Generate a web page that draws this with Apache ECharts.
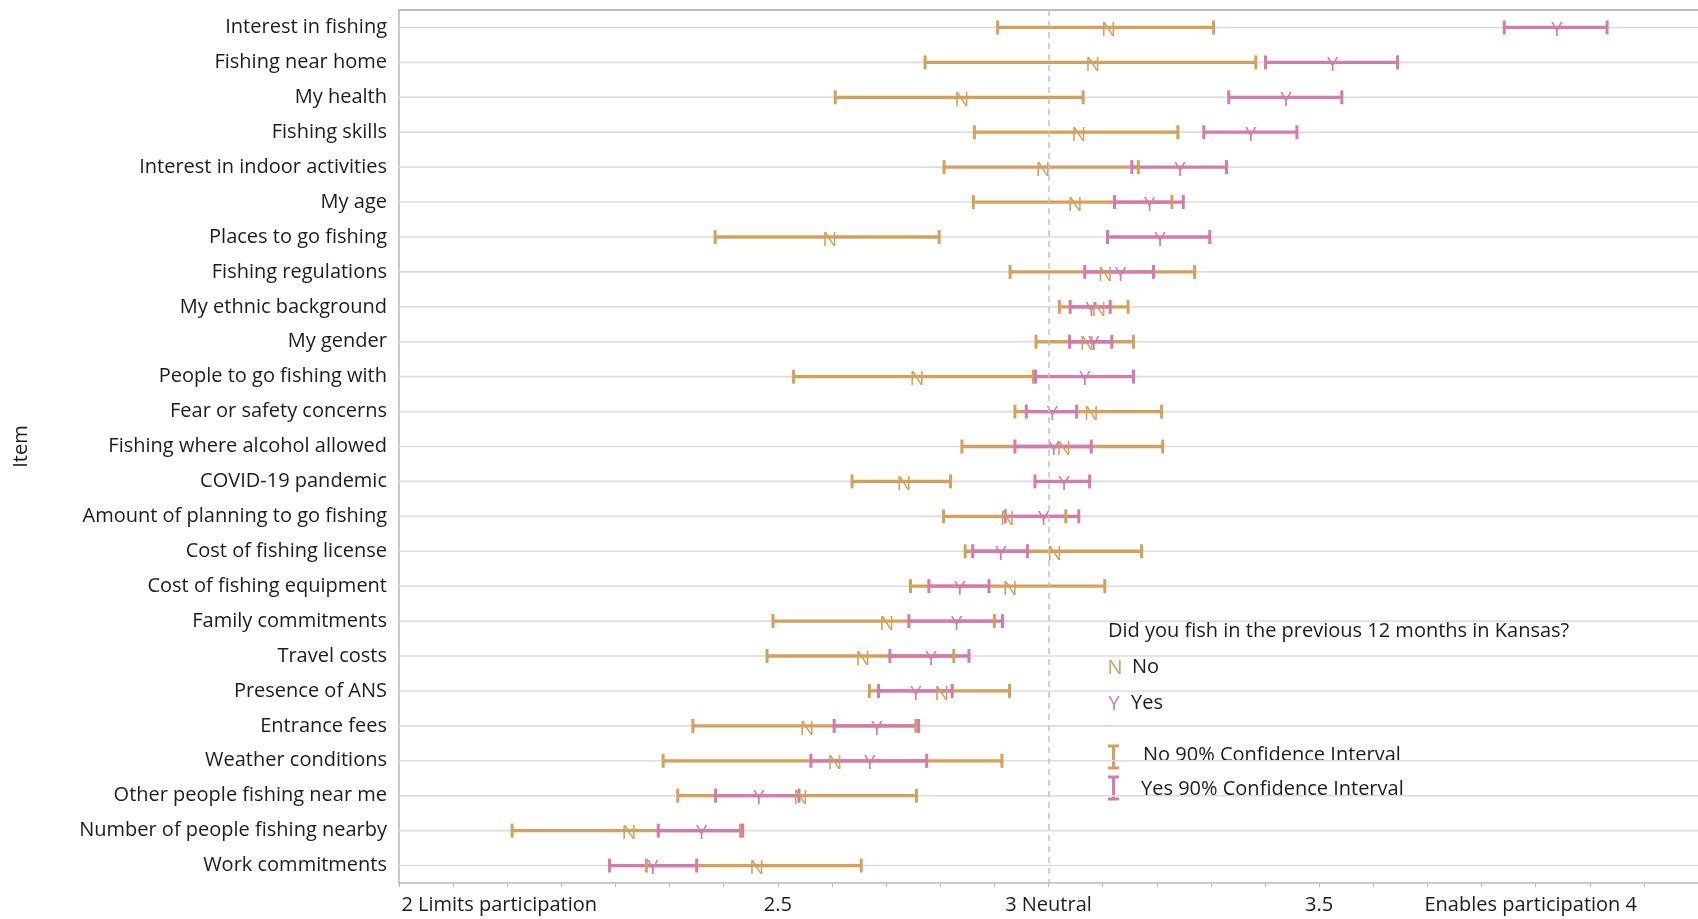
<!DOCTYPE html>
<html>
<head>
<meta charset="utf-8">
<script src="https://cdn.jsdelivr.net/npm/echarts@6/dist/echarts.min.js"></script>
<style>
  html, body { margin: 0; padding: 0; background: #ffffff; }
  #chart { width: 1698px; height: 919px; }
</style>
</head>
<body>
<div id="chart"></div>
<script>
// Items rated on a 1–5 scale (limits ... enables participation), listed top to bottom
const items = [
  'Interest in fishing',
  'Fishing near home',
  'My health',
  'Fishing skills',
  'Interest in indoor activities',
  'My age',
  'Places to go fishing',
  'Fishing regulations',
  'My ethnic background',
  'My gender',
  'People to go fishing with',
  'Fear or safety concerns',
  'Fishing where alcohol allowed',
  'COVID-19 pandemic',
  'Amount of planning to go fishing',
  'Cost of fishing license',
  'Cost of fishing equipment',
  'Family commitments',
  'Travel costs',
  'Presence of ANS',
  'Entrance fees',
  'Weather conditions',
  'Other people fishing near me',
  'Number of people fishing nearby',
  'Work commitments'
];

// Respondents who did NOT fish in Kansas in the previous 12 months: mean and 90% CI
const noMean = [3.111, 3.082, 2.840, 3.056, 2.990, 3.049, 2.596, 3.105, 3.093, 3.071, 2.757, 3.079, 3.028,
                2.733, 2.924, 3.011, 2.929, 2.701, 2.657, 2.803, 2.554, 2.605, 2.542, 2.225, 2.461];
const noLow  = [2.906, 2.772, 2.606, 2.863, 2.807, 2.861, 2.384, 2.929, 3.020, 2.977, 2.529, 2.938, 2.840,
                2.637, 2.806, 2.846, 2.745, 2.491, 2.480, 2.669, 2.343, 2.288, 2.315, 2.009, 2.257];
const noHigh = [3.305, 3.383, 3.064, 3.239, 3.166, 3.228, 2.798, 3.270, 3.147, 3.157, 2.972, 3.209, 3.211,
                2.819, 3.032, 3.172, 3.104, 2.900, 2.825, 2.928, 2.755, 2.914, 2.756, 2.431, 2.654];

// Respondents who DID fish in Kansas in the previous 12 months: mean and 90% CI
const yesMean = [3.939, 3.525, 3.439, 3.374, 3.243, 3.187, 3.206, 3.133, 3.079, 3.084, 3.067, 3.007, 3.010,
                 3.029, 2.991, 2.912, 2.836, 2.830, 2.783, 2.755, 2.683, 2.670, 2.465, 2.359, 2.269];
const yesLow  = [3.842, 3.401, 3.333, 3.287, 3.154, 3.122, 3.109, 3.067, 3.040, 3.039, 2.976, 2.959, 2.938,
                 2.975, 2.920, 2.860, 2.779, 2.742, 2.707, 2.686, 2.604, 2.561, 2.385, 2.279, 2.189];
const yesHigh = [4.032, 3.645, 3.542, 3.459, 3.329, 3.249, 3.298, 3.194, 3.114, 3.117, 3.157, 3.052, 3.079,
                 3.076, 3.056, 2.961, 2.890, 2.915, 2.853, 2.822, 2.760, 2.775, 2.539, 2.435, 2.350];

// X axis ticks and labels
const xTickValues = [1.8, 1.9, 2.0, 2.1, 2.2, 2.3, 2.4, 2.5, 2.6, 2.7, 2.8, 2.9, 3.0,
                     3.1, 3.2, 3.3, 3.4, 3.5, 3.6, 3.7, 3.8, 3.9, 4.0, 4.1, 4.2];
const xLabelValues = [2, 2.5, 3, 3.5, 4];
const xLabelTexts = ['2 Limits participation', '2.5', '3 Neutral', '3.5', 'Enables participation 4'];

const NO_COLOR = '#D4A05B';
const YES_COLOR = '#D37AAE';
const FONT = '"Open Sans", "Noto Sans", sans-serif';
const TEXT_COLOR = '#1c1c1c';
const FS = 20;

const rows = items.map((name, i) => [i, noLow[i], noMean[i], noHigh[i], yesLow[i], yesMean[i], yesHigh[i]]);

function labelFor(v) {
  const k = xLabelValues.findIndex(t => Math.abs(t - v) < 1e-6);
  if (k < 0) return '';
  if (k === 0) return '{a|' + xLabelTexts[k] + '}';
  if (k === xLabelTexts.length - 1) return '{b|' + xLabelTexts[k] + '}';
  return xLabelTexts[k];
}

// Horizontal reference line through each item row
function renderGridRow(params, api) {
  const cs = params.coordSys;
  const y = api.coord([3, api.value(0)])[1];
  return {
    type: 'line',
    shape: { x1: cs.x, y1: y, x2: cs.x + cs.width, y2: y },
    style: { stroke: '#dcdcdc', lineWidth: 1.6 },
    silent: true
  };
}

// One row: both confidence intervals with end caps and the group letters at the means
function renderRow(params, api) {
  const i = api.value(0);
  const groups = [
    { low: api.value(1), mean: api.value(2), high: api.value(3), color: NO_COLOR, letter: 'N', z: 0 },
    { low: api.value(4), mean: api.value(5), high: api.value(6), color: YES_COLOR, letter: 'Y', z: 1 }
  ];
  const capHalf = 7;
  const children = [];
  groups.forEach(g => {
    const pL = api.coord([g.low, i]);
    const pH = api.coord([g.high, i]);
    children.push({
      type: 'line', z2: 10 + g.z,
      shape: { x1: pL[0], y1: pL[1], x2: pH[0], y2: pH[1] },
      style: { stroke: g.color, lineWidth: 3.3 }
    });
    [pL, pH].forEach(p => {
      children.push({
        type: 'line', z2: 20 + g.z,
        shape: { x1: p[0], y1: p[1] - capHalf, x2: p[0], y2: p[1] + capHalf },
        style: { stroke: g.color, lineWidth: 3 }
      });
    });
  });
  groups.forEach(g => {
    const pM = api.coord([g.mean, i]);
    children.push({
      type: 'text', z2: 30 + g.z,
      x: pM[0], y: pM[1] + 3,
      style: {
        text: g.letter, fill: g.color, fontSize: 20, fontFamily: FONT,
        align: 'center', verticalAlign: 'middle'
      }
    });
  });
  return { type: 'group', children: children };
}

const chart = echarts.init(document.getElementById('chart'), null, { renderer: 'canvas' });

const legendX = 1108;
const option = {
  backgroundColor: '#ffffff',
  animation: false,
  grid: { left: 399, top: 10, width: 1302, height: 873, containLabel: false },
  xAxis: [
    {
      type: 'value', min: 1.8, max: 4.2, position: 'bottom',
      axisLine: { show: true, lineStyle: { color: '#b8b8b8', width: 1.5 } },
      axisTick: { show: true, customValues: xTickValues, length: 4, lineStyle: { color: '#b8b8b8', width: 1 } },
      axisLabel: {
        customValues: xLabelValues, formatter: labelFor, margin: 12,
        fontSize: FS, fontFamily: FONT, color: TEXT_COLOR,
        rich: {
          a: { fontSize: FS, fontFamily: FONT, color: TEXT_COLOR, padding: [0, 16, 0, 0] },
          b: { fontSize: FS, fontFamily: FONT, color: TEXT_COLOR, padding: [0, 118, 0, 0] }
        }
      },
      splitLine: { show: false }
    },
    {
      type: 'value', min: 1.8, max: 4.2, position: 'top',
      axisLine: { show: true, lineStyle: { color: '#a8a8a8', width: 1.5 } },
      axisTick: { show: false }, axisLabel: { show: false }, splitLine: { show: false }
    }
  ],
  yAxis: {
    type: 'category', data: items, inverse: true,
    axisLine: { show: true, lineStyle: { color: '#b8b8b8', width: 1.5 } },
    axisTick: { show: false },
    axisLabel: { fontSize: FS, fontFamily: FONT, color: TEXT_COLOR, margin: 12 },
    splitLine: { show: false },
    name: 'Item', nameLocation: 'middle', nameGap: 368, nameRotate: 90,
    nameTextStyle: { fontSize: 20, fontFamily: FONT, color: TEXT_COLOR }
  },
  series: [
    {
      name: 'rows', type: 'custom', renderItem: renderGridRow, data: rows, z: 1,
      encode: { x: 2, y: 0 }, silent: true
    },
    {
      name: 'neutral', type: 'scatter', data: [], z: 2, silent: true,
      markLine: {
        silent: true, symbol: 'none', label: { show: false },
        lineStyle: { type: [6, 5], color: '#c2c2c2', width: 1.5 },
        data: [{ xAxis: 3 }]
      }
    },
    {
      name: 'intervals', type: 'custom', renderItem: renderRow, data: rows, z: 3,
      encode: { x: [1, 2, 3, 4, 5, 6], y: 0 }
    }
  ],
  graphic: [
    { type: 'text', x: legendX, y: 631, style: { text: 'Did you fish in the previous 12 months in Kansas?', fontSize: FS, fontFamily: FONT, fill: TEXT_COLOR, verticalAlign: 'middle' } },
    { type: 'text', x: legendX + 7, y: 668, style: { text: 'N', fontSize: FS, fontFamily: FONT, fill: NO_COLOR, align: 'center', verticalAlign: 'middle' } },
    { type: 'text', x: 1132, y: 667, style: { text: 'No', fontSize: FS, fontFamily: FONT, fill: TEXT_COLOR, verticalAlign: 'middle' } },
    { type: 'text', x: legendX + 6, y: 704, style: { text: 'Y', fontSize: FS, fontFamily: FONT, fill: YES_COLOR, align: 'center', verticalAlign: 'middle' } },
    { type: 'text', x: 1131, y: 703, style: { text: 'Yes', fontSize: FS, fontFamily: FONT, fill: TEXT_COLOR, verticalAlign: 'middle' } },
    { type: 'polyline', shape: { points: [[1108, 746], [1119, 746]] }, style: { stroke: NO_COLOR, lineWidth: 3 } },
    { type: 'polyline', shape: { points: [[1113.5, 746], [1113.5, 768]] }, style: { stroke: NO_COLOR, lineWidth: 3 } },
    { type: 'polyline', shape: { points: [[1108, 768], [1119, 768]] }, style: { stroke: NO_COLOR, lineWidth: 3 } },
    { type: 'text', x: 1143, y: 755, style: { text: 'No 90% Confidence Interval', fontSize: FS, fontFamily: FONT, fill: TEXT_COLOR, verticalAlign: 'middle' } },
    { type: 'polyline', shape: { points: [[1108, 777], [1119, 777]] }, style: { stroke: YES_COLOR, lineWidth: 3 } },
    { type: 'polyline', shape: { points: [[1113.5, 777], [1113.5, 799]] }, style: { stroke: YES_COLOR, lineWidth: 3 } },
    { type: 'polyline', shape: { points: [[1108, 799], [1119, 799]] }, style: { stroke: YES_COLOR, lineWidth: 3 } },
    { type: 'text', x: 1141, y: 789, style: { text: 'Yes 90% Confidence Interval', fontSize: FS, fontFamily: FONT, fill: TEXT_COLOR, verticalAlign: 'middle' } }
  ]
};

chart.setOption(option);
</script>
</body>
</html>
